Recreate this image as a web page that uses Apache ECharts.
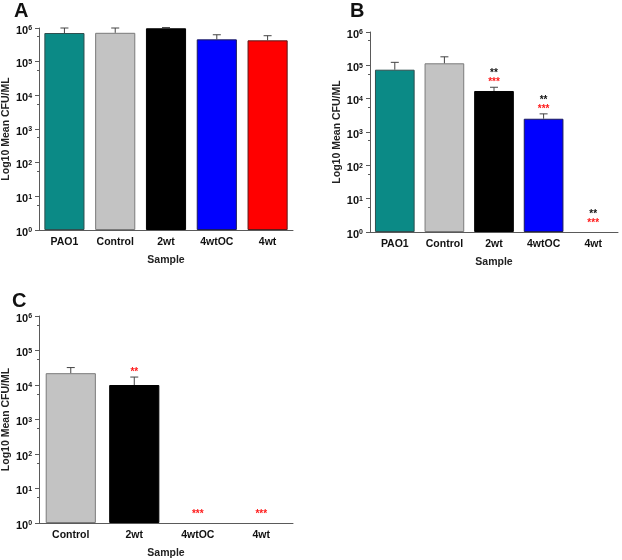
<!DOCTYPE html>
<html>
<head>
<meta charset="utf-8">
<script src="https://cdn.jsdelivr.net/npm/echarts@6/dist/echarts.min.js"></script>
<style>
  html, body { margin: 0; padding: 0; background: #fff; }
  #chart { width: 622px; height: 560px; }
</style>
</head>
<body>
<div id="chart"></div>
<script>
// ---------- data ----------
const categoriesAB = ['PAO1', 'Control', '2wt', '4wtOC', '4wt'];
const categoriesC = ['Control', '2wt', '4wtOC', '4wt'];

const meanA = [7.1e5, 7.2e5, 9.8e5, 4.6e5, 4.3e5];
const errTopA = [1.0e6, 1.0e6, 1.03e6, 6.3e5, 5.9e5];

const meanB = [7.4e4, 1.15e5, 1.7e4, 2.5e3, null];
const errTopB = [1.23e5, 1.8e5, 2.2e4, 3.5e3, null];

const meanC = [2.2e4, 1.0e4, null, null];
const errTopC = [3.2e4, 1.7e4, null, null];

// significance marks, listed bottom line first
const sigA = [[], [], [], [], []];
const sigB = [[], [], [['***', 'red'], ['**', 'black']], [['***', 'red'], ['**', 'black']], [['***', 'red'], ['**', 'black']]];
const sigC = [[], [['**', 'red']], [['***', 'red']], [['***', 'red']]];

const yMin = 1, yMax = 1e6;
const panelLetters = ['A', 'B', 'C'];
const yAxisTitle = 'Log10 Mean CFU/ML';
const xAxisTitle = 'Sample';

// ---------- styles ----------
const FONT = '"Liberation Sans", Arial, sans-serif';
const barColors = {
  'PAO1': '#0b8a86',
  'Control': '#c3c3c3',
  '2wt': '#000000',
  '4wtOC': '#0000ff',
  '4wt': '#ff0000'
};
const barBorders = {
  'PAO1': '#2f4f4f',
  'Control': '#7a7a7a',
  '2wt': '#000000',
  '4wtOC': '#1a1a5a',
  '4wt': '#5a1a1a'
};
const markColors = { red: '#ff1a1a', black: '#111111' };
const axisColor = '#5a5a5a';

const grids = [
  { left: 39, top: 28, width: 254, height: 202 },
  { left: 370, top: 32, width: 248, height: 200 },
  { left: 39, top: 316, width: 254, height: 207 }
];
const titlesPos = [
  { left: 14, top: 1 },
  { left: 350, top: 1 },
  { left: 12, top: 291 }
];

const panels = [
  { cats: categoriesAB, mean: meanA, err: errTopA, sig: sigA, gap: '21%' },
  { cats: categoriesAB, mean: meanB, err: errTopB, sig: sigB, gap: '20%' },
  { cats: categoriesC, mean: meanC, err: errTopC, sig: sigC, gap: '21%' }
];

const option = {
  animation: false,
  backgroundColor: '#ffffff',
  title: panelLetters.map((t, i) => ({
    text: t, left: titlesPos[i].left, top: titlesPos[i].top, padding: 0,
    textStyle: { fontFamily: FONT, fontSize: 20, fontWeight: 'bold', color: '#111' }
  })),
  grid: grids.map(g => Object.assign({ containLabel: false }, g)),
  xAxis: [],
  yAxis: [],
  series: []
};

panels.forEach((p, i) => {
  option.xAxis.push({
    type: 'category', gridIndex: i, data: p.cats,
    name: xAxisTitle, nameLocation: 'middle', nameGap: 25,
    nameTextStyle: { fontFamily: FONT, fontSize: 10.5, fontWeight: 'bold', color: '#222' },
    axisLine: { lineStyle: { color: axisColor, width: 1 } },
    axisTick: { alignWithLabel: true, length: 4, lineStyle: { color: axisColor } },
    axisLabel: { fontFamily: FONT, fontSize: 10.5, fontWeight: 'bold', color: '#111', margin: 7, interval: 0 },
    splitLine: { show: false }
  });
  option.yAxis.push({
    type: 'log', logBase: 10, gridIndex: i, min: yMin, max: yMax,
    name: yAxisTitle, nameLocation: 'middle', nameGap: 22, nameRotate: 90,
    nameTextStyle: { fontFamily: FONT, fontSize: 10.5, fontWeight: 'bold', color: '#222' },
    axisLine: { show: true, lineStyle: { color: axisColor, width: 1 } },
    axisTick: { show: true, length: 4, lineStyle: { color: axisColor } },
    minorTick: { show: true, splitNumber: 2, length: 2, lineStyle: { color: axisColor } },
    splitLine: { show: false },
    axisLabel: {
      margin: 7,
      padding: [5, 0, 0, 0],
      formatter: v => '{b|10}{s|' + Math.round(Math.log10(v)) + '}',
      rich: {
        b: { fontFamily: FONT, fontSize: 11, fontWeight: 'bold', color: '#111', lineHeight: 11, verticalAlign: 'bottom' },
        s: { fontFamily: FONT, fontSize: 7, fontWeight: 'bold', color: '#111', lineHeight: 8, verticalAlign: 'bottom', padding: [0, 0, 4, 0] }
      }
    }
  });

  // bars
  option.series.push({
    type: 'bar', xAxisIndex: i, yAxisIndex: i,
    barCategoryGap: p.gap,
    data: p.mean.map((v, k) => v == null ? '-' : {
      value: v,
      itemStyle: { color: barColors[p.cats[k]], borderColor: barBorders[p.cats[k]], borderWidth: 1 }
    }),
    z: 2
  });

  // error bars (upper only)
  const errData = [];
  p.mean.forEach((v, k) => { if (v != null && p.err[k] != null) errData.push([k, v, p.err[k]]); });
  option.series.push({
    type: 'custom', xAxisIndex: i, yAxisIndex: i, clip: false, z: 3,
    data: errData,
    renderItem: (params, api) => {
      const lo = api.coord([api.value(0), api.value(1)]);
      const hi = api.coord([api.value(0), api.value(2)]);
      const half = 4;
      return {
        type: 'group',
        children: [
          { type: 'line', shape: { x1: lo[0], y1: lo[1], x2: hi[0], y2: hi[1] }, style: { stroke: '#444', lineWidth: 1 } },
          { type: 'line', shape: { x1: hi[0] - half, y1: hi[1], x2: hi[0] + half, y2: hi[1] }, style: { stroke: '#444', lineWidth: 1 } }
        ]
      };
    }
  });

  // significance marks
  const sigData = [];
  p.sig.forEach((lines, k) => {
    if (lines.length) {
      const hasBar = p.mean[k] != null;
      sigData.push([k, hasBar ? p.err[k] : yMin, hasBar ? 1 : 0]);
    }
  });
  option.series.push({
    type: 'custom', xAxisIndex: i, yAxisIndex: i, clip: false, z: 4,
    data: sigData,
    renderItem: (params, api) => {
      const k = api.value(0);
      const pt = api.coord([k, api.value(1)]);
      const base = api.value(2) ? 7 : 11;
      const lines = p.sig[k];
      return {
        type: 'group',
        children: lines.map((ln, j) => ({
          type: 'text',
          style: {
            text: ln[0], x: pt[0], y: pt[1] - base - j * 9 + 2,
            align: 'center', verticalAlign: 'middle',
            fontFamily: FONT, fontSize: 10, fontWeight: 'bold', fill: markColors[ln[1]]
          }
        }))
      };
    }
  });
});

const chart = echarts.init(document.getElementById('chart'), null, { renderer: 'canvas' });
chart.setOption(option);
</script>
</body>
</html>
